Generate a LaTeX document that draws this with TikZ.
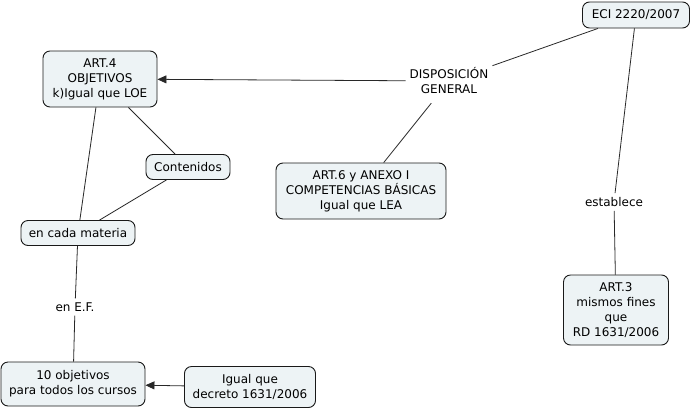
\documentclass[tikz,border=0pt]{standalone}
\usepackage{fontspec}
\setmainfont{DejaVu Sans}
\usetikzlibrary{arrows.meta,positioning}
\definecolor{boxfill}{RGB}{237,243,245}
\definecolor{linegray}{RGB}{40,40,40}

\begin{document}
\begin{tikzpicture}[
    x=1pt, y=-1pt,
    concept/.style={draw=black!90, line width=0.9pt, fill=boxfill, rounded corners=7pt, align=center, inner sep=3pt, font=\fontsize{12}{15}\selectfont},
    phrase/.style={align=center, inner sep=4pt, font=\fontsize{12}{15}\selectfont},
    link/.style={draw=linegray, line width=0.8pt},
    arrowlink/.style={link, -{Triangle[length=9pt,width=8pt]}},
]
\useasboundingbox (0,0) rectangle (693,410);

% Top right
\node[concept, minimum width=107pt, minimum height=26pt] (eci) at (636,15) {ECI 2220/2007};
\node[phrase, minimum height=44pt] (disp) at (449,81) {DISPOSICIÓN\\GENERAL};
\node[phrase] (establece) at (614,202) {establece};
\node[concept, minimum width=105pt, minimum height=70pt] (art3) at (616,310) {ART.3\\mismos fines\\que\\RD 1631/2006};

% Middle
\node[concept, minimum width=114pt, minimum height=56pt] (art4) at (100,79) {ART.4\\OBJETIVOS\\k)Igual que LOE};
\node[concept, minimum width=170pt, minimum height=56pt] (art6) at (361,191) {ART.6 y ANEXO I\\COMPETENCIAS BÁSICAS\\Igual que LEA};
\node[concept, minimum width=84pt, minimum height=25pt] (contenidos) at (188,167) {Contenidos};
\node[concept, minimum width=114pt, minimum height=25pt] (materia) at (78,233) {en cada materia};

% Bottom left
\node[phrase] (ef) at (75,307) {en E.F.};
\node[concept, minimum width=144pt, minimum height=44pt] (diez) at (73,384) {10 objetivos\\para todos los cursos};
\node[concept, minimum width=131pt, minimum height=41pt] (decreto) at (250,387) {Igual que\\decreto 1631/2006};

\draw[link] (eci) -- (disp);
\draw[arrowlink] (disp) -- (art4);
\draw[link] (disp) -- (art6);
\draw[link] (eci) -- (establece);
\draw[link] (establece) -- (art3);
\draw[link] (art4) -- (contenidos);
\draw[link] (contenidos) -- (materia);
\draw[link] (art4) -- (materia);
\draw[link] (materia) -- (ef);
\draw[link] (ef) -- (diez);
\draw[arrowlink] (decreto) -- (diez);

\end{tikzpicture}
\end{document}
